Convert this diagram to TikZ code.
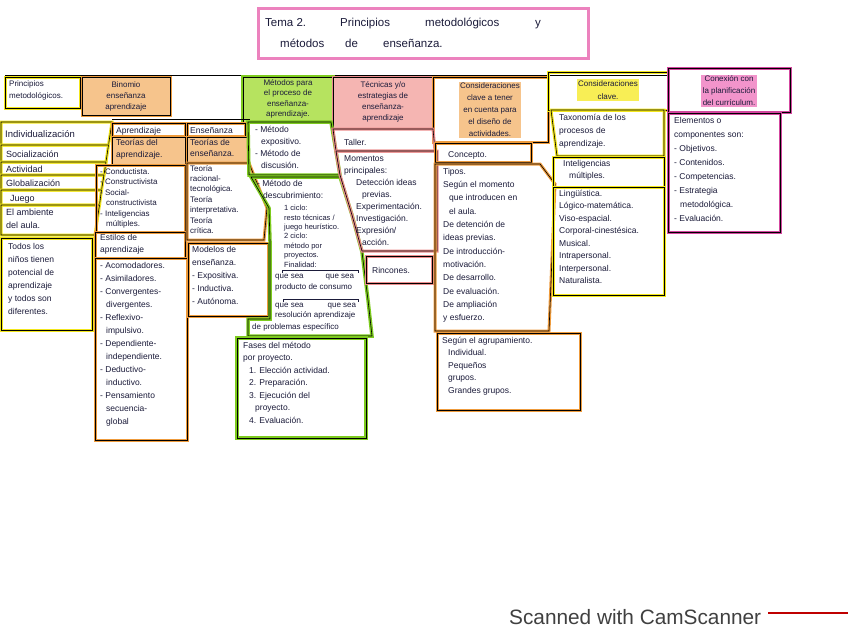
\documentclass[tikz,border=0pt]{standalone}
\usepackage{fontspec}
\usepackage{graphicx}
\setmainfont{Liberation Sans}
\definecolor{yel}{HTML}{F2E61C}
\definecolor{yelhl}{HTML}{F8EE55}
\definecolor{ora}{HTML}{EE9B3C}
\definecolor{orafill}{HTML}{F6C48C}
\definecolor{grn}{HTML}{7DCB1E}
\definecolor{grnfill}{HTML}{B6E35F}
\definecolor{redb}{HTML}{EC8C8C}
\definecolor{redfill}{HTML}{F5B5B2}
\definecolor{pinkb}{HTML}{EC82BE}
\definecolor{mag}{HTML}{D3479F}
\definecolor{magfill}{HTML}{F294CB}
\definecolor{ink}{HTML}{1B1B3A}
\tikzset{
  yb/.style={draw=black, line width=0.6pt, preaction={draw=yel, line width=3pt}},
  ob/.style={draw=black, line width=0.6pt, preaction={draw=ora, line width=3pt}},
  gb/.style={draw=black, line width=0.6pt, preaction={draw=grn, line width=3.5pt}},
  rb/.style={draw=black, line width=0.6pt, preaction={draw=redb, line width=3pt}},
  mb/.style={draw=black, line width=0.6pt, preaction={draw=mag, line width=3pt}},
  hw/.style={inner sep=0pt, text=ink, align=left, anchor=north west, font=\fontsize{8.5}{12}\selectfont},
  hc/.style={inner sep=0pt, text=ink, align=center, font=\fontsize{8}{11}\selectfont},
  hb/.style={inner sep=0pt, text=ink, anchor=base west, font=\fontsize{8.5}{12}\selectfont},
  ld/.style={font=\fontsize{8.5}{#1}\selectfont},
  sd/.style={font=\fontsize{8}{#1}\selectfont},
  tw/.style={inner sep=0pt, text=ink, anchor=base west, font=\fontsize{11.5}{12}\selectfont},
}
\newcommand\ind{\hspace*{6pt}}
\begin{document}
\begin{tikzpicture}[x=1pt,y=-1pt]
\useasboundingbox (0,0) rectangle (848,632);
\fill[white] (0,0) rectangle (848,632);

% title
\draw[pinkb, line width=3pt] (258,8) rectangle (588,58);
\node[tw] (w1) at (265,26) {Tema 2.};
\node[tw] (w2) at (340,26) {Principios};
\node[tw] (w3) at (425,26) {metodológicos};
\node[tw] (w4) at (535,26) {y};
\node[tw] (w5) at (280,47) {métodos};
\node[tw] (w6) at (345,47) {de};
\node[tw] (w7) at (383,47) {enseñanza.};

% top rule
\draw[black, line width=0.8pt] (5,75) -- (668,75);

% headers
\draw[yb] (5,77) rectangle (80,108);
\node[hw, sd=12] (h1) at (9,81) {Principios\\metodológicos.};

\draw[ob, preaction={fill=orafill}] (82,77) rectangle (170,115);
\node[hc] (h2) at (126,96) {Binomio\\enseñanza\\aprendizaje};

\draw[gb, preaction={fill=grnfill}] (243,77) rectangle (333,122);
\node[hc, font=\fontsize{8}{10.5}\selectfont] (h3) at (288,99) {Métodos para\\el proceso de\\enseñanza-\\aprendizaje.};

\draw[rb, preaction={fill=redfill}] (333,77) rectangle (433,128);
\node[hc] (h4) at (383,102) {Técnicas y/o\\estrategias de\\enseñanza-\\aprendizaje};

\draw[ob] (433,77) rectangle (548,142);
\node[hc, fill=orafill, inner sep=1.5pt, font=\fontsize{8}{12}\selectfont] (h5) at (490,110) {Consideraciones\\clave a tener\\en cuenta para\\el diseño de\\actividades.};

\draw[yb] (548,72) rectangle (668,110);
\node[hc, fill=yelhl, inner sep=1.5pt, font=\fontsize{8}{13}\selectfont] (h6) at (608,90) {Consideraciones\\clave.};

\draw[mb] (668,68) rectangle (790,112);
\node[hc, fill=magfill, inner sep=1.5pt, font=\fontsize{8}{12}\selectfont] (h7) at (729,91) {Conexión con\\la planificación\\del currículum.};

% column 1: principios
\draw[yb] (1,122) -- (112,122) -- (108.5,145) -- (1,145) -- cycle;
\node[hb, font=\fontsize{9.5}{12}\selectfont] (p1) at (5,137) {Individualización};
\draw[yb] (1,145) -- (108.5,145) -- (106,162) -- (1,162) -- cycle;
\node[hb, font=\fontsize{9}{12}\selectfont] (p2) at (6,157.5) {Socialización};
\draw[yb] (1,162) -- (106,162) -- (104,175) -- (1,175) -- cycle;
\node[hb, font=\fontsize{9}{12}\selectfont] (p3) at (6,172.5) {Actividad};
\draw[yb] (1,175) -- (104,175) -- (101.5,190) -- (1,190) -- cycle;
\node[hb, font=\fontsize{9}{12}\selectfont] (p4) at (6,186.5) {Globalización};
\draw[yb] (1,190) -- (101.5,190) -- (99.5,205) -- (1,205) -- cycle;
\node[hb, font=\fontsize{9}{12}\selectfont] (p5) at (10,201.5) {Juego};
\draw[yb] (1,205) -- (99.5,205) -- (95,235) -- (1,235) -- cycle;
\node[hw, font=\fontsize{9}{13}\selectfont] (p6) at (6,209) {El ambiente\\del aula.};
\draw[yb] (1,238) rectangle (92,330);
\node[hw, font=\fontsize{8.5}{13}\selectfont] (p7) at (8,243) {Todos los\\niños tienen\\potencial de\\aprendizaje\\y todos son\\diferentes.};

% column 2: aprendizaje
\draw[black, line width=0.8pt] (112,119) -- (250,119);
\draw[ob] (112,123) rectangle (185,136);
\node[hb] (a1) at (116,133) {Aprendizaje};
\draw[ob, preaction={fill=orafill}] (112,137) rectangle (185,165);
\node[hw] (a2) at (116,139.5) {Teorías del\\aprendizaje.};
\draw[ob] (96,165) rectangle (185,232);
\node[hw, sd=10.5] (a3) at (100,168) {- Conductista.\\- Constructivista\\- Social-\\\ind constructivista\\- Inteligencias\\\ind múltiples.};
\draw[ob] (95,232) rectangle (185,258);
\node[hw] (a4) at (100,234.5) {Estilos de\\aprendizaje};
\draw[ob] (95,258) rectangle (187,440);
\node[hw, ld=13] (a5) at (100,262) {- Acomodadores.\\- Asimiladores.\\- Convergentes-\\\ind divergentes.\\- Reflexivo-\\\ind impulsivo.\\- Dependiente-\\\ind independiente.\\- Deductivo-\\\ind inductivo.\\- Pensamiento\\\ind secuencia-\\\ind global};

% column 2: enseñanza
\draw[ob] (187,123) rectangle (245,136);
\node[hb] (e1) at (190,133) {Enseñanza};
\draw[ob, preaction={fill=orafill}] (187,137) rectangle (248,162);
\node[hw, ld=11] (e2) at (190,139.5) {Teorías de\\enseñanza.};
\draw[ob] (187,163) -- (249,163) -- (267,208) -- (264,240) -- (187,240) -- cycle;
\node[hw, sd=10.4] (e3) at (190,165) {Teoría\\racional-\\tecnológica.\\Teoría\\interpretativa.\\Teoría\\crítica.};
\draw[ob] (188,243) rectangle (268,316);
\node[hw, ld=13] (e4) at (192,246) {Modelos de\\enseñanza.\\- Expositiva.\\- Inductiva.\\- Autónoma.};

% column 3: métodos
\draw[gb] (248,122) -- (331,122) -- (340,175) -- (249,175) -- cycle;
\node[hw] (m1) at (255,126) {- Método\\\ind expositivo.\\- Método de\\\ind discusión.};
\draw[gb] (251,177) -- (340,177) -- (352,215) -- (362,252) -- (368,300) -- (372,336)
      -- (248,336) -- (248,319) -- (270,319) -- (270,241) -- (269,208) -- cycle;
\node[hw] (m2) at (257,180) {- Método de\\\ind descubrimiento:};
\node[hw, font=\fontsize{7.5}{9.4}\selectfont] (m3) at (284,205) {1 ciclo:\\resto técnicas /\\juego heurístico.\\2 ciclo:\\método por\\proyectos.\\Finalidad:};
\draw[ink, line width=0.6pt] (282,273) -- (282,270) -- (358,270) -- (358,273);
\node[hw, sd=10.5] (m4) at (275,274) {que sea\hspace{22pt}que sea\\producto de consumo};
\draw[ink, line width=0.6pt] (283,302) -- (283,299) -- (358,299) -- (358,302);
\node[hw, sd=10] (m5) at (275,303) {que sea\hspace{24pt}que sea\\resolución aprendizaje};
\node[hw, sd=10] (m5b) at (252,323) {de problemas específico};
\draw[gb] (237,338) rectangle (366,438);
\node[hw, ld=12.5] (m6) at (243,342) {Fases del método\\por proyecto.\\\ind 1. Elección actividad.\\\ind 2. Preparación.\\\ind 3. Ejecución del\\\ind\ind proyecto.\\\ind 4. Evaluación.};

% column 4: técnicas
\draw[rb] (333,129) -- (433,129) -- (435,151) -- (336,151) -- cycle;
\node[hb] (t1) at (344,145) {Taller.};
\draw[rb] (336,151) -- (437,151) -- (437,251) -- (362,251) -- (352,215) -- (340,175) -- cycle;
\node[hw] (t2) at (344,155) {Momentos\\principales:};
\node[hw, ld=12] (t3) at (356,179) {Detección ideas\\\ind previas.\\Experimentación.\\Investigación.\\Expresión/\\\ind acción.};
\draw[rb] (366,256) rectangle (432,283);
\node[hb] (t4) at (372,273) {Rincones.};

% column 5: consideraciones
\draw[ob] (435,143) rectangle (531,162);
\node[hb] (c1) at (448,157) {Concepto.};
\draw[ob] (435,164) -- (540,164) -- (555,184) -- (549,331) -- (435,331) -- cycle;
\node[hw, ld=13.3] (c2) at (443,168) {Tipos.\\Según el momento\\\ind que introducen en\\\ind el aula.\\De detención de\\ideas previas.\\De introducción-\\motivación.\\De desarrollo.\\De evaluación.\\De ampliación\\y esfuerzo.};
\draw[ob] (437,333) rectangle (580,410);
\node[hw, ld=12.5] (c3) at (442,337) {Según el agrupamiento.\\\ind Individual.\\\ind Pequeños\\\ind grupos.\\\ind Grandes grupos.};

% column 6: consideraciones clave
\draw[yb] (551,110) -- (664,110) -- (664,156) -- (557,156) -- cycle;
\node[hw, ld=13] (k1) at (559,114) {Taxonomía de los\\procesos de\\aprendizaje.};
\draw[yb] (553,157) rectangle (664,187);
\node[hw] (k2) at (563,160) {Inteligencias\\\ind múltiples.};
\draw[yb] (553,187) rectangle (664,295);
\node[hw, ld=12.5] (k3) at (559,190) {Lingüística.\\Lógico-matemática.\\Viso-espacial.\\Corporal-cinestésica.\\Musical.\\Intrapersonal.\\Interpersonal.\\Naturalista.};

% column 7: conexión
\draw[mb] (668,113) rectangle (780,232);
\node[hw, ld=14] (x1) at (674,117) {Elementos o\\componentes son:\\- Objetivos.\\- Contenidos.\\- Competencias.\\- Estrategia\\\ind metodológica.\\- Evaluación.};

% watermark
\node[inner sep=0pt, anchor=base west, text=black!75] (wm) at (509,624) {\resizebox{252pt}{!}{Scanned with CamScanner}};
\draw[red!75!black, line width=1.2pt] (768,613) -- (848,613);
\end{tikzpicture}
\end{document}
